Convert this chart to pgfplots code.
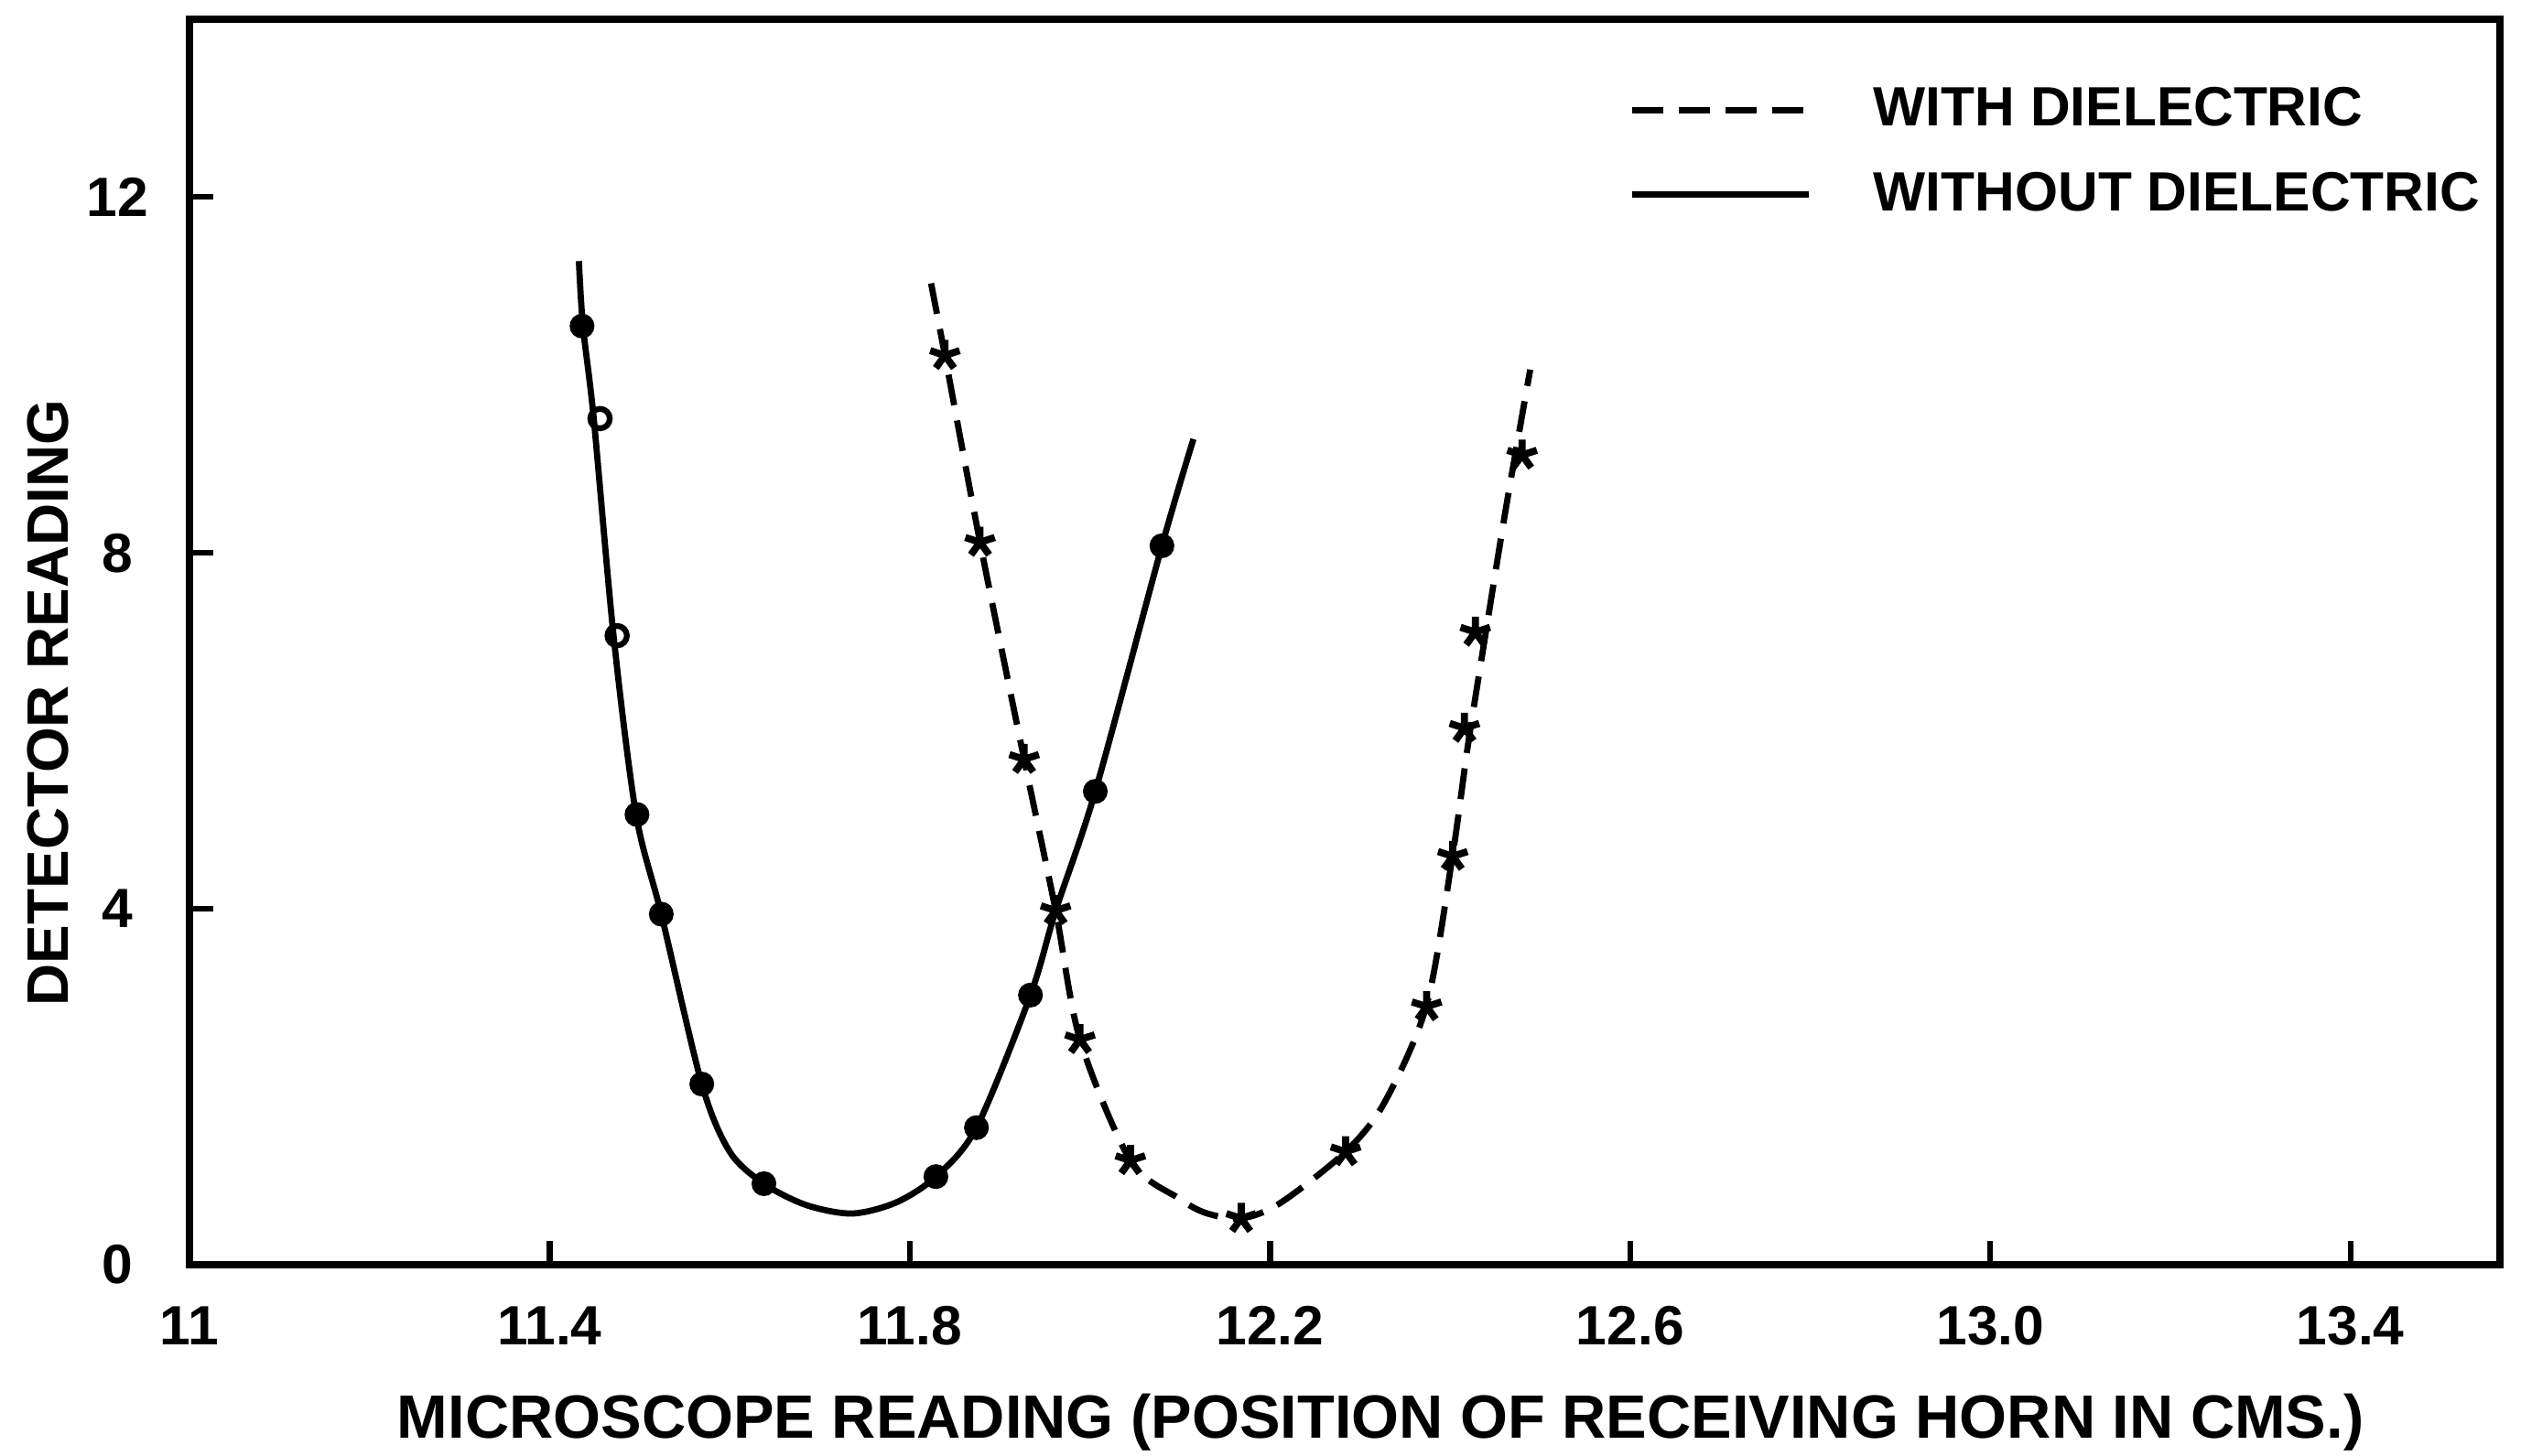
\documentclass[border=0pt]{standalone}
\usepackage{pgfplots}
\pgfplotsset{compat=1.18}
\usepackage{fontspec}
\setmainfont{Liberation Sans}
\begin{document}
\begin{tikzpicture}
\path[use as bounding box] (-1.503,-1.518) rectangle (18.497,10.036);
\begin{axis}[
  at={(0,0)}, anchor=south west,
  scale only axis, width=18.33cm, height=9.884cm,
  xmin=11, xmax=13.566, ymin=0, ymax=14,
  axis line style={line width=1.6pt},
  xtick={11,11.4,11.8,12.2,12.6,13.0,13.4},
  xticklabels={11, 11.4, 11.8, 12.2, 12.6, 13.0, 13.4},
  ytick={0,4,8,12},
  yticklabels={0,4,8,12},
  tick align=inside, xtick pos=bottom, ytick pos=left,
  major tick length=0.19cm,
  tick style={line width=1.3pt, black},
  every tick label/.append style={font=\bfseries\fontsize{12.5}{15}\selectfont},
  xticklabel style={anchor=base, yshift=-0.635cm},
  yticklabel style={anchor=center, xshift=-0.57cm},
  xlabel={MICROSCOPE READING (POSITION OF RECEIVING HORN IN CMS.)},
  xlabel style={at={(rel axis cs:0.5155,0)}, anchor=base, yshift=-1.38cm, font=\bfseries\fontsize{13.8}{16}\selectfont},
  ylabel={DETECTOR READING},
  ylabel style={at={(rel axis cs:0,0.451)}, anchor=center, yshift=1.12cm, font=\bfseries\fontsize{13.2}{16}\selectfont},
  legend style={draw=none, fill=none, at={(rel axis cs:0.617,0.96)}, anchor=north west,
    font=\bfseries\fontsize{12.5}{15}\selectfont, row sep=0.17cm, column sep=0.42cm},
  legend cell align=left,
  legend image code/.code={\draw[#1] (0cm,0cm) -- (1.4cm,0cm);},
]
\addlegendimage{black, line width=1.4pt, dash pattern=on 7pt off 3.5pt}
\addlegendentry{WITH DIELECTRIC}
\addlegendimage{black, line width=1.4pt}
\addlegendentry{WITHOUT DIELECTRIC}

% without dielectric: drawn curve
\addplot[black, line width=1.4pt, smooth, forget plot] coordinates {
(11.4325,11.28) (11.437,10.55) (11.449,9.51) (11.471,7.07) (11.496,5.06)
(11.524,3.94) (11.569,2.03) (11.600,1.27) (11.638,0.91) (11.685,0.67)
(11.736,0.575) (11.785,0.70) (11.829,0.99) (11.874,1.54) (11.934,3.03)
(11.962,3.98) (12.006,5.32) (12.080,8.08) (12.115,9.28)
};
% with dielectric: drawn curve
\addplot[black, line width=1.4pt, smooth, dash pattern=on 7pt off 3.5pt, forget plot] coordinates {
(11.8236,11.03) (11.839,10.22) (11.878,8.12) (11.927,5.68) (11.962,3.98)
(11.989,2.53) (12.045,1.17) (12.098,0.75) (12.129,0.58) (12.168,0.52)
(12.211,0.69) (12.284,1.27) (12.327,1.82) (12.374,2.92) (12.4025,4.58)
(12.420,5.85) (12.438,7.00) (12.462,8.50) (12.489,10.06)
};
% measured points without dielectric
\addplot[only marks, mark=*, mark size=2.6pt, black, forget plot] coordinates {
(11.436,10.55) (11.497,5.06) (11.524,3.94) (11.569,2.03) (11.638,0.91)
(11.829,0.99) (11.874,1.54) (11.934,3.03) (12.006,5.32) (12.080,8.08)
};
\addplot[only marks, mark=o, mark size=2.2pt, black, mark options={line width=1.3pt, fill=white}, forget plot] coordinates {
(11.456,9.51) (11.475,7.07)
};
% measured points with dielectric
\addplot[only marks, mark=star, mark size=3.5pt, black, mark options={line width=1.6pt}, forget plot] coordinates {
(11.839,10.22) (11.878,8.12) (11.927,5.68) (11.962,3.98) (11.989,2.53)
(12.045,1.17) (12.168,0.52) (12.284,1.27) (12.374,2.90) (12.403,4.59)
(12.416,6.03) (12.428,7.11) (12.480,9.10)
};
\end{axis}
\end{tikzpicture}
\end{document}
